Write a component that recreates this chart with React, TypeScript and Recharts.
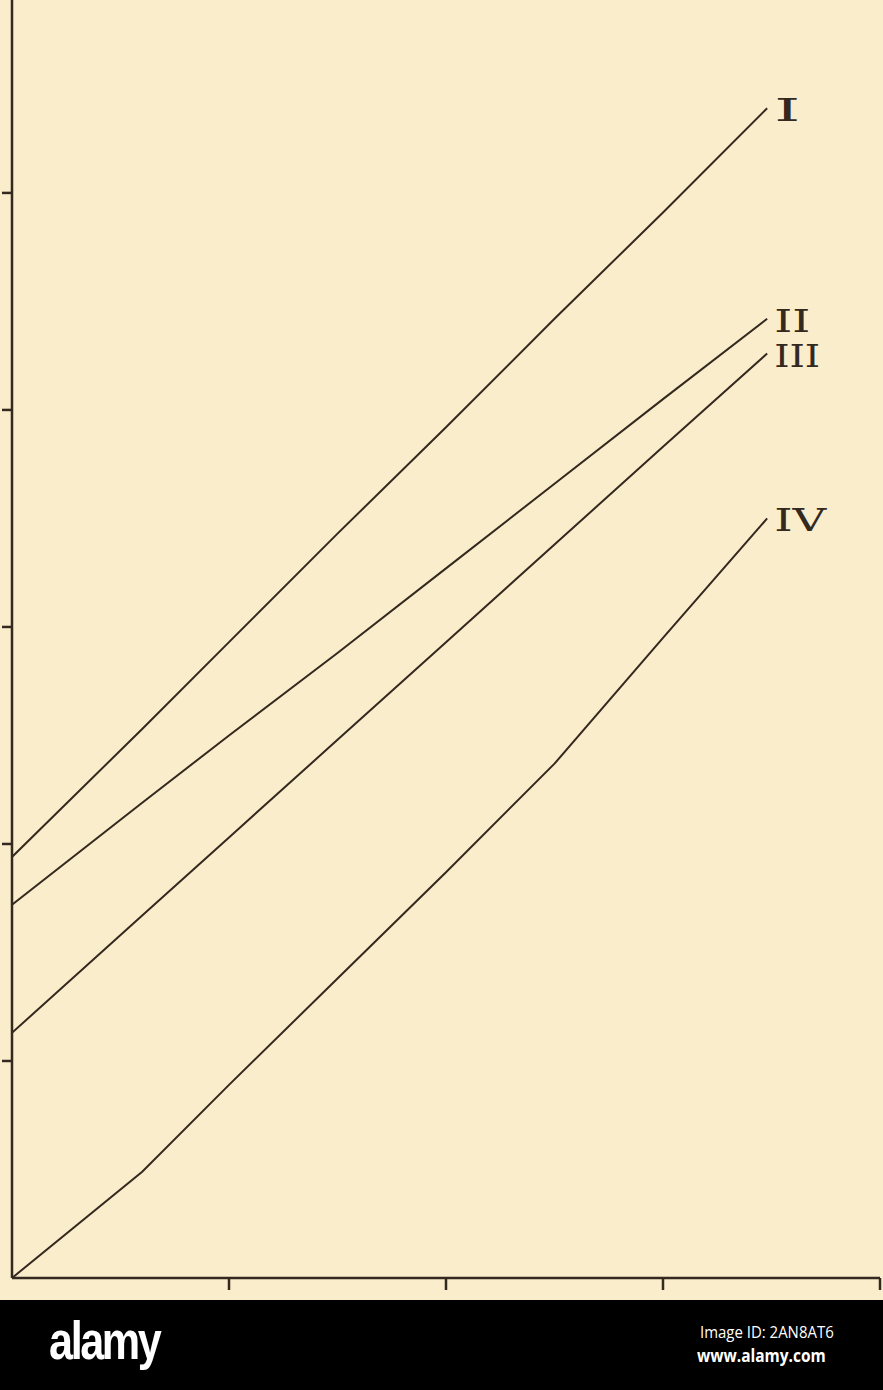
import React from 'react';
import { LineChart, Line, XAxis, YAxis } from 'recharts';

const xs = [0, 0.6, 1, 1.5, 2, 2.5, 3, 3.48];
const curveI = [1.94, 2.53, 2.93, 3.43, 3.92, 4.42, 4.91, 5.39];
const curveII = [1.72, 2.19, 2.5, 2.88, 3.27, 3.66, 4.05, 4.42];
const curveIII = [1.13, 1.67, 2.03, 2.48, 2.93, 3.38, 3.83, 4.26];
const curveIV = [0, 0.49, 0.89, 1.38, 1.87, 2.37, 2.95, 3.5];
const names = ['I', 'II', 'III', 'IV'];
const labelWidths = [26, 36, 46, 52];
const xTicks = [1, 2, 3, 4];
const yTicks = [1, 2, 3, 4, 5];

const data = xs.map((x, i) => ({
  x,
  I: curveI[i],
  II: curveII[i],
  III: curveIII[i],
  IV: curveIV[i],
}));

const ink = '#33291f';
const paper = '#faedcb';

const endLabel = (name: string, w: number) => (props: any) => {
  const { x, y, index } = props;
  if (index !== xs.length - 1) return null;
  return (
    <text
      key={name}
      x={x + 7}
      y={y + 13}
      fill={ink}
      fontSize={32}
      fontFamily="'DejaVu Serif', serif"
      textLength={w}
      lengthAdjust="spacingAndGlyphs"
    >
      {name}
    </text>
  );
};

const App: React.FC = () => {
  return (
    <div style={{ position: 'absolute', left: 0, top: 0, width: 883, height: 1390, background: paper }}>
      <LineChart width={883} height={1300} data={data} margin={{ top: 0, right: 3, left: 0, bottom: 0 }}>
        <XAxis
          dataKey="x"
          type="number"
          domain={[0, 4]}
          ticks={xTicks}
          height={22}
          tickSize={12}
          stroke={ink}
          strokeWidth={2.5}
          tick={{ fontSize: 0 }}
          tickFormatter={() => ''}
          allowDataOverflow
        />
        <YAxis
          type="number"
          domain={[0, 5.889]}
          ticks={yTicks}
          width={12}
          tickSize={10}
          stroke={ink}
          strokeWidth={2.5}
          tick={{ fontSize: 0 }}
          tickFormatter={() => ''}
          allowDataOverflow
        />
        {names.map((n, i) => (
          <Line
            key={n}
            dataKey={n}
            type="linear"
            stroke={ink}
            strokeWidth={2}
            dot={false}
            isAnimationActive={false}
            label={endLabel(n, labelWidths[i])}
          />
        ))}
      </LineChart>
      <div style={{ position: 'absolute', left: 0, top: 1300, width: 883, height: 90, background: '#000' }}>
        <div style={{ position: 'absolute', left: 49, top: 10, color: '#fff', fontFamily: "'Liberation Sans', sans-serif", fontWeight: 700, fontSize: 54, letterSpacing: -3, lineHeight: '60px', transform: 'scaleX(0.8)', transformOrigin: 'left' }}>
          alamy
        </div>
        <div style={{ position: 'absolute', left: 700, top: 21, color: '#fff', fontFamily: "'Open Sans', sans-serif", fontSize: 17, lineHeight: '22px', whiteSpace: 'nowrap', transform: 'scaleX(0.88)', transformOrigin: 'left' }}>
          Image ID: 2AN8AT6
        </div>
        <div style={{ position: 'absolute', left: 697, top: 43, color: '#fff', fontFamily: "'Open Sans', sans-serif", fontWeight: 700, fontSize: 18, lineHeight: '24px', whiteSpace: 'nowrap', transform: 'scaleX(0.86)', transformOrigin: 'left' }}>
          www.alamy.com
        </div>
      </div>
    </div>
  );
};

export default App;
